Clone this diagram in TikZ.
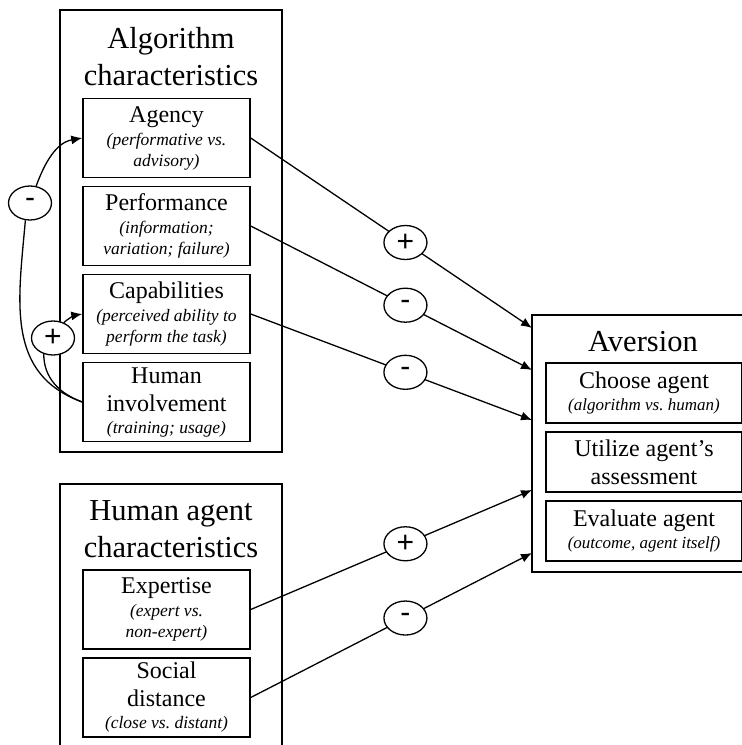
\documentclass[tikz,border=0pt]{standalone}
\usepackage{fontspec}
\setmainfont{Liberation Serif}
\newfontfamily\signfont{Liberation Sans}
\usetikzlibrary{arrows.meta, positioning, shapes.geometric}

\newcommand{\headsz}{\fontsize{30.5}{37}\selectfont}
\newcommand{\mainsz}{\fontsize{24}{28}\selectfont}
\newcommand{\notesz}{\fontsize{17.5}{21}\selectfont\itshape}

\begin{document}
\begin{tikzpicture}[x=1pt, y=-1pt, node distance=88pt,
    outerbox/.style={rectangle, draw, line width=1.5pt, inner sep=0pt},
    heading/.style={align=flush center, font=\headsz},
    factor/.style={rectangle, draw, line width=1.5pt, text width=160pt, align=flush center, minimum height=79pt, inner sep=3.5pt, font=\mainsz},
    outcome/.style={factor, text width=188pt, minimum height=60pt, inner sep=4pt},
    sign/.style={ellipse, draw, fill=white, line width=1.3pt, minimum width=43pt, minimum height=34pt, inner sep=0pt, font=\signfont\fontsize{30}{30}\selectfont},
    link/.style={line width=1.3pt, -{Latex[length=11pt, width=9pt]}}]
    \useasboundingbox (0,0) rectangle (742,745);

    % algorithm side
    \node[outerbox, minimum width=222pt, minimum height=442pt] (algo) at (171,231) {};
    \node[heading] (algotitle) at (171,56.5) {Algorithm\\characteristics};
    \node[factor] (agency) at (166.5,138) {
        Agency\\[2pt]
        {\notesz (performative vs.\\ advisory)\par}
    };
    \node[factor, below of=agency] (perf) {
        Performance\\[2pt]
        {\notesz (information;\\ variation; failure)\par}
    };
    \node[factor, below of=perf] (cap) {
        Capabilities\\[2pt]
        {\notesz (perceived ability to\\ perform the task)\par}
    };
    \node[factor, below of=cap] (inv) {
        Human\\ involvement\\[1pt]
        {\notesz (training; usage)\par}
    };

    % human agent side
    \node[outerbox, minimum width=222pt, minimum height=286pt] (hum) at (171,627) {};
    \node[heading] (humtitle) at (171,529.5) {Human agent\\characteristics};
    \node[factor] (expert) at (166.5,609.5) {
        Expertise\\[2pt]
        {\notesz (expert vs.\\ non-expert)\par}
    };
    \node[factor, below of=expert] (social) {
        Social\\ distance\\[1pt]
        {\notesz (close vs.\ distant)\par}
    };

    % aversion
    \node[outerbox, minimum width=228pt, minimum height=257pt] (aversion) at (646,443.5) {};
    \node[heading] (avtitle) at (643,342) {Aversion};
    \node[outcome] (choose) at (644,393) {
        Choose agent\\[1pt]
        {\notesz\fontsize{17}{21}\selectfont (algorithm vs.\ human)\par}
    };
    \node[outcome, node distance=69pt, below of=choose] (util) {
        Utilize agent's\\ assessment
    };
    \node[outcome, node distance=69pt, below of=util] (eval) {
        Evaluate agent\\[1pt]
        {\notesz\fontsize{17}{21}\selectfont (outcome, agent itself)\par}
    };

    \coordinate (in1) at (532,328);
    \coordinate (in2) at (532,370);
    \coordinate (in3) at (532,420);
    \coordinate (in4) at (532,490);
    \coordinate (in5) at (532,553);

    \draw[link] (agency.east) -- node[sign, pos=0.55] (s1) {+} (in1);
    \draw[link] (perf.east) -- node[sign, pos=0.55] (s2) {-} (in2);
    \draw[link] (cap.east) -- node[sign, pos=0.55] (s3) {-} (in3);
    \draw[link] (expert.east) -- node[sign, pos=0.55] (s4) {+} (in4);
    \draw[link] (social.east) -- node[sign, pos=0.55] (s5) {-} (in5);

    % loops on the left
    \node[sign] (neg) at (30,203) {-};
    \node[sign] (pos) at (53,338) {+};
    \draw[line width=1.3pt] (inv.west) to[out=160, in=-95, looseness=1.1] (neg.-105);
    \draw[link] (neg.70) to[out=70, in=190] (agency.west);
    \draw[line width=1.3pt] (inv.west) to[out=160, in=-90] (pos.-120);
    \draw[link] (pos.55) to[out=40, in=190] (cap.west);
\end{tikzpicture}
\end{document}
